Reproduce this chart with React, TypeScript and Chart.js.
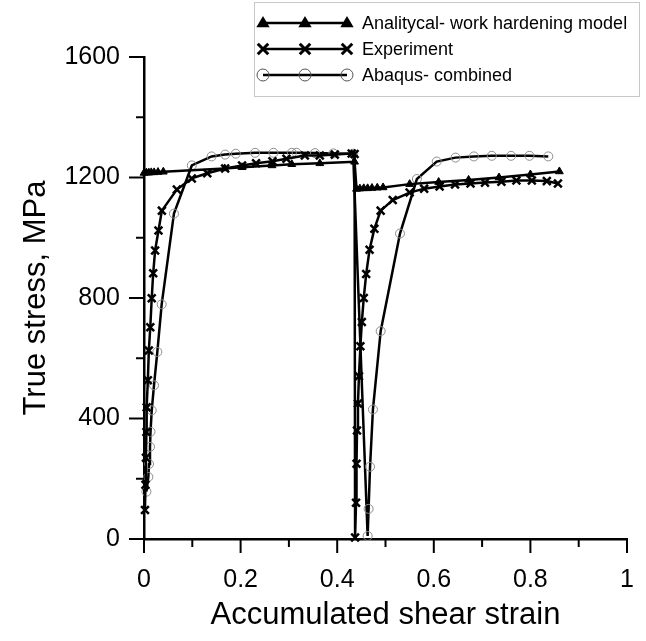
import React, { useEffect, useRef } from "react";
import { Chart, registerables } from "chart.js";

Chart.register(...registerables);

// ---------- data ----------
const analyticalX = [0, 0.005, 0.01, 0.015, 0.021, 0.029, 0.04, 0.167, 0.203, 0.265, 0.306, 0.364, 0.436, 0.44, 0.447, 0.455, 0.463, 0.472, 0.483, 0.495, 0.55, 0.61, 0.672, 0.735, 0.8, 0.86];
const analyticalY = [1215, 1216, 1216, 1217, 1217, 1218, 1219, 1230, 1234, 1240, 1244, 1247, 1252, 1162, 1163, 1164, 1164, 1165, 1166, 1167, 1178, 1185, 1192, 1200, 1210, 1220];

const experimentX = [0.002, 0.003, 0.004, 0.005, 0.0055, 0.008, 0.01, 0.013, 0.016, 0.019, 0.023, 0.03, 0.037, 0.068, 0.099, 0.131, 0.168, 0.203, 0.232, 0.266, 0.295, 0.333, 0.364, 0.395, 0.43, 0.436, 0.437, 0.439, 0.44, 0.441, 0.443, 0.445, 0.448, 0.451, 0.455, 0.46, 0.467, 0.477, 0.49, 0.515, 0.55, 0.58, 0.612, 0.644, 0.676, 0.706, 0.74, 0.771, 0.803, 0.834, 0.857];
const experimentY = [96, 180, 270, 355, 437, 527, 626, 703, 799, 882, 958, 1024, 1090, 1160, 1197, 1214, 1230, 1240, 1247, 1254, 1262, 1273, 1273, 1276, 1280, 1278, 5, 120, 250, 360, 450, 540, 640, 720, 800, 880, 960, 1030, 1090, 1125, 1150, 1163, 1170, 1177, 1180, 1183, 1186, 1190, 1190, 1188, 1180];

const abaqusX = [0.005, 0.009, 0.0104, 0.0124, 0.0135, 0.016, 0.0207, 0.0276, 0.0366, 0.062, 0.099, 0.14, 0.168, 0.19, 0.23, 0.268, 0.306, 0.316, 0.354, 0.392, 0.433, 0.463, 0.465, 0.468, 0.474, 0.49, 0.53, 0.565, 0.606, 0.645, 0.683, 0.72, 0.76, 0.798, 0.837];
const abaqusY = [157, 206, 249, 306, 356, 427, 510, 621, 779, 1080, 1240, 1270, 1276, 1279, 1282, 1282, 1282, 1282, 1281, 1280, 1279, 10, 100, 240, 430, 690, 1014, 1195, 1253, 1266, 1270, 1272, 1272, 1272, 1270];

const seriesLabels = ["Analitycal- work hardening model", "Experiment", "Abaqus- combined"];
const xMajorTicks = [0, 0.2, 0.4, 0.6, 0.8, 1];
const xMinorTicks = [0.1, 0.3, 0.5, 0.7, 0.9];
const yMajorTicks = [0, 400, 800, 1200, 1600];
const yMinorTicks = [200, 600, 1000, 1400];
const xTitle = "Accumulated shear strain";
const yTitle = "True stress, MPa";

const FONT = "'Liberation Sans', Arial, sans-serif";

function pts(xs: number[], ys: number[]) {
  return xs.map((x, i) => ({ x, y: ys[i] }));
}

function drawMarker(ctx: CanvasRenderingContext2D, kind: string, x: number, y: number, r: number) {
  ctx.beginPath();
  if (kind === "triangle") {
    ctx.moveTo(x, y - r);
    ctx.lineTo(x + r * 0.95, y + r * 0.6);
    ctx.lineTo(x - r * 0.95, y + r * 0.6);
    ctx.closePath();
    ctx.fillStyle = "#000";
    ctx.fill();
  } else if (kind === "cross") {
    const d = r * 0.75;
    ctx.moveTo(x - d, y - d);
    ctx.lineTo(x + d, y + d);
    ctx.moveTo(x + d, y - d);
    ctx.lineTo(x - d, y + d);
    ctx.strokeStyle = "#000";
    ctx.lineWidth = 3;
    ctx.stroke();
  } else {
    ctx.arc(x, y, r, 0, Math.PI * 2);
    ctx.strokeStyle = "#555";
    ctx.lineWidth = 1;
    ctx.stroke();
  }
}

const decorPlugin = {
  id: "decor",
  afterDraw(chart: any) {
    const { ctx, chartArea } = chart;
    const xs = chart.scales.x;
    const ys = chart.scales.y;
    ctx.save();
    ctx.strokeStyle = "#000";
    ctx.lineWidth = 2;
    ctx.lineCap = "butt";
    const line = (x1: number, y1: number, x2: number, y2: number) => {
      ctx.beginPath();
      ctx.moveTo(x1, y1);
      ctx.lineTo(x2, y2);
      ctx.stroke();
    };
    yMajorTicks.forEach((v) => { const p = ys.getPixelForValue(v); line(chartArea.left - 15, p, chartArea.left, p); });
    yMinorTicks.forEach((v) => { const p = ys.getPixelForValue(v); line(chartArea.left - 8, p, chartArea.left, p); });
    xMajorTicks.forEach((v) => { const p = xs.getPixelForValue(v); line(p, chartArea.bottom, p, chartArea.bottom + 14); });
    xMinorTicks.forEach((v) => { const p = xs.getPixelForValue(v); line(p, chartArea.bottom, p, chartArea.bottom + 8); });

    // legend
    const bx = 254.5, by = 2.5, bw = 385, bh = 94;
    ctx.fillStyle = "#fff";
    ctx.fillRect(bx, by, bw, bh);
    ctx.strokeStyle = "#c8c8c8";
    ctx.lineWidth = 1;
    ctx.strokeRect(bx, by, bw, bh);
    const kinds = ["triangle", "cross", "circle"];
    const rows = [23, 49, 75];
    kinds.forEach((k, i) => {
      const y = rows[i];
      ctx.strokeStyle = "#000";
      ctx.lineWidth = 2.5;
      line(263, y, 347, y);
      [263, 305, 347].forEach((x) => drawMarker(ctx, k, x, y, k === "circle" ? 6 : 7));
      ctx.fillStyle = "#000";
      ctx.font = `18px ${FONT}`;
      ctx.textBaseline = "middle";
      ctx.textAlign = "left";
      ctx.fillText(seriesLabels[i], 362, y + 1);
    });
    ctx.restore();
  },
};

export default function App() {
  const ref = useRef<HTMLCanvasElement | null>(null);
  useEffect(() => {
    if (!ref.current) return;
    const chart = new Chart(ref.current, {
      type: "scatter",
      data: {
        datasets: [
          {
            label: seriesLabels[0],
            data: pts(analyticalX, analyticalY),
            showLine: true,
            borderColor: "#000",
            borderWidth: 2.5,
            pointStyle: "triangle",
            pointRadius: 4.5,
            pointBackgroundColor: "#000",
            pointBorderColor: "#000",
            pointBorderWidth: 1,
            tension: 0,
            clip: false,
          } as any,
          {
            label: seriesLabels[1],
            data: pts(experimentX, experimentY),
            showLine: true,
            borderColor: "#000",
            borderWidth: 2.5,
            pointStyle: "crossRot",
            pointRadius: 5.5,
            pointBorderColor: "#000",
            pointBorderWidth: 2.5,
            tension: 0,
            clip: false,
          } as any,
          {
            label: seriesLabels[2],
            data: pts(abaqusX, abaqusY),
            showLine: true,
            borderColor: "#000",
            borderWidth: 2.5,
            pointStyle: "circle",
            pointRadius: 4.5,
            pointBackgroundColor: "rgba(0,0,0,0)",
            pointBorderColor: "#8c8c8c",
            pointBorderWidth: 1,
            tension: 0,
            clip: false,
          } as any,
        ],
      },
      options: {
        animation: false,
        responsive: false,
        maintainAspectRatio: false,
        layout: { padding: { top: 57, right: 19, left: 0, bottom: 0 } },
        plugins: { legend: { display: false }, tooltip: { enabled: false } },
        scales: {
          x: {
            type: "linear",
            min: 0,
            max: 1,
            afterFit: (s: any) => { s.height = 102; },
            afterBuildTicks: (s: any) => { s.ticks = xMajorTicks.map((v) => ({ value: v })); },
            grid: { display: false, drawTicks: true, tickLength: 26 },
            border: { display: true, color: "#000", width: 2.5 },
            ticks: {
              padding: 0,
              color: "#000",
              font: { family: FONT, size: 25 },
              maxRotation: 0,
              callback: (v: any) => String(Number(Number(v).toFixed(1))),
            },
            title: {
              display: true,
              text: xTitle,
              color: "#000",
              font: { family: FONT, size: 31 },
              padding: { top: 0, bottom: 7 },
            },
          },
          y: {
            type: "linear",
            min: 0,
            max: 1600,
            afterFit: (s: any) => { s.width = 144; },
            afterBuildTicks: (s: any) => { s.ticks = yMajorTicks.map((v) => ({ value: v })); },
            grid: { display: false, drawTicks: true, tickLength: 24 },
            border: { display: true, color: "#000", width: 2.5 },
            ticks: {
              padding: 0,
              color: "#000",
              font: { family: FONT, size: 25 },
              callback: (v: any) => String(v),
            },
            title: {
              display: true,
              text: yTitle,
              color: "#000",
              font: { family: FONT, size: 31 },
              padding: { top: 18, bottom: 0 },
            },
          },
        },
      },
      plugins: [decorPlugin],
    });
    return () => chart.destroy();
  }, []);
  return (
    <div style={{ position: "absolute", left: 0, top: 0, width: 646, height: 641, background: "#fff" }}>
      <canvas ref={ref} width={646} height={641} />
    </div>
  );
}
